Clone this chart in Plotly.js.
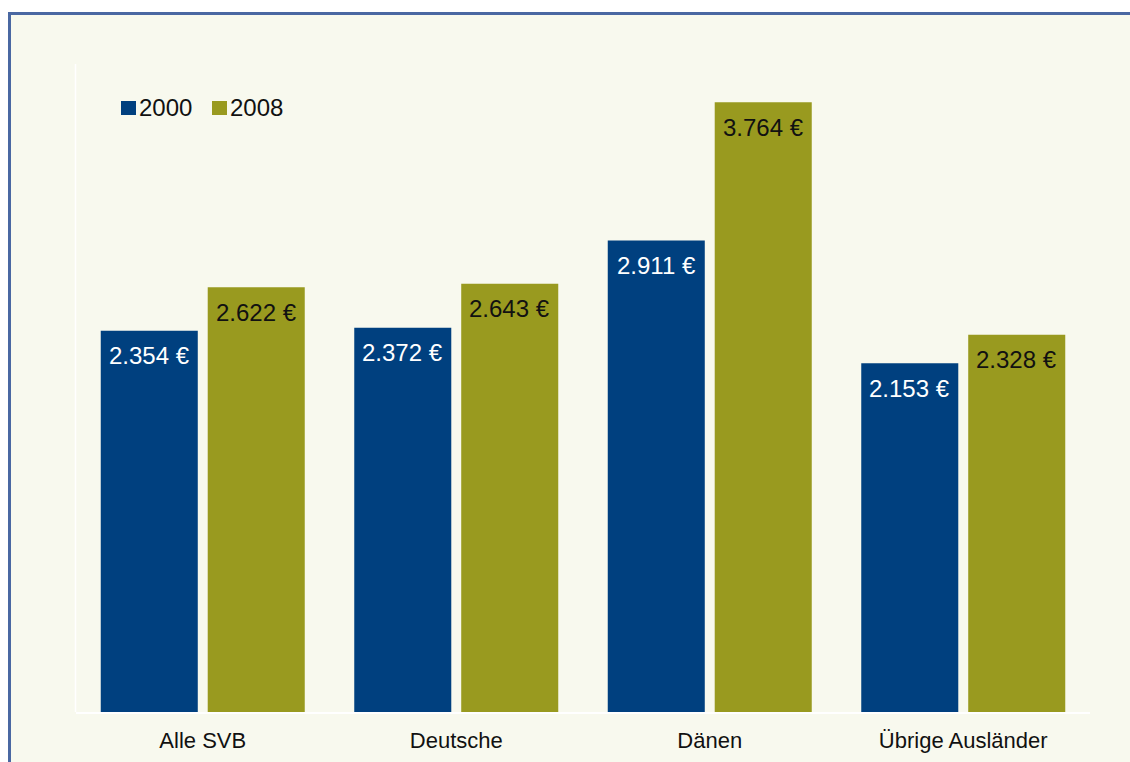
<!DOCTYPE html>
<html>
<head>
<meta charset="utf-8">
<script src="https://cdn.plot.ly/plotly-3.0.1.min.js"></script>
<style>
html,body{margin:0;padding:0;background:#F8F9EE;overflow:hidden;}
#wrap{position:relative;width:1130px;height:762px;overflow:hidden;background:#FFFFFF;}
#frame{position:absolute;left:8px;top:12px;right:-20px;bottom:-20px;background:#F8F9EE;border-left:3px solid #4A68A2;border-top:3px solid #4A68A2;}
#chart{position:absolute;left:0;top:0;width:1130px;height:762px;}
</style>
</head>
<body>
<div id="wrap">
<div id="frame"></div>
<div id="chart"></div>
</div>
<script>
const categories = ["Alle SVB", "Deutsche", "Dänen", "Übrige Ausländer"];
const seriesNames = ["2000", "2008"];
const values2000 = [2354, 2372, 2911, 2153];
const values2008 = [2622, 2643, 3764, 2328];
const colors = ["#00407F", "#999A1F"];
const labelColors = ["#FFFFFF", "#111111"];

const W = 1130, H = 762, L = 76, R = 40, T = 64, B = 50;
const pw = W - L - R, ph = H - T - B;
const px = v => (v - L) / pw;
const py = v => (H - B - v) / ph;

function fmt(v) {
  const s = String(v);
  return s.slice(0, s.length - 3) + "." + s.slice(-3) + " €";
}

const series = [values2000, values2008];
const traces = series.map((vals, i) => ({
  type: "bar",
  name: seriesNames[i],
  x: categories,
  y: vals,
  marker: {color: colors[i], line: {width: 0}},
  hoverinfo: "none",
  showlegend: false
}));

const annotations = [];
series.forEach((vals, i) => {
  vals.forEach((v, j) => {
    annotations.push({
      x: categories[j], y: v, xref: "x", yref: "y",
      xshift: i === 0 ? -53.5 : 53.5, yshift: -25,
      text: fmt(v), showarrow: false, xanchor: "center", yanchor: "middle",
      font: {family: "Arial, 'Liberation Sans', sans-serif", size: 24, color: labelColors[i]}
    });
  });
});
const legendX = [121, 212];
seriesNames.forEach((n, i) => {
  annotations.push({
    x: px(legendX[i] + 16), y: py(108), xref: "paper", yref: "paper",
    text: n, showarrow: false, xanchor: "left", yanchor: "middle",
    font: {family: "Arial, 'Liberation Sans', sans-serif", size: 24, color: "#111111"}
  });
});

const shapes = [
  {type: "line", xref: "paper", yref: "paper", layer: "below",
   x0: px(75.5), x1: px(75.5), y0: 0, y1: 1, line: {color: "#FFFFFF", width: 1.5}}
];
seriesNames.forEach((n, i) => {
  shapes.push({type: "rect", xref: "paper", yref: "paper", layer: "above",
    x0: px(legendX[i]), x1: px(legendX[i] + 15), y0: py(115), y1: py(101),
    fillcolor: colors[i], line: {width: 0}});
});

const layout = {
  width: W, height: H,
  margin: {l: L, r: R, t: T, b: B, pad: 0},
  paper_bgcolor: "rgba(0,0,0,0)",
  plot_bgcolor: "#F8F9EE",
  barmode: "group",
  bargap: 0.156,
  bargroupgap: 0.093,
  font: {family: "Arial, 'Liberation Sans', sans-serif", color: "#111111"},
  xaxis: {
    type: "category",
    showline: true, linecolor: "#FFFFFF", linewidth: 2,
    ticks: "", showgrid: false, zeroline: false,
    tickfont: {size: 22, color: "#111111"},
    ticklabelstandoff: 8
  },
  yaxis: {
    range: [0, 4000], showticklabels: false, showgrid: false,
    zeroline: false, showline: false, ticks: ""
  },
  shapes: shapes,
  annotations: annotations
};

Plotly.newPlot("chart", traces, layout, {displayModeBar: false, staticPlot: true});
</script>
</body>
</html>
